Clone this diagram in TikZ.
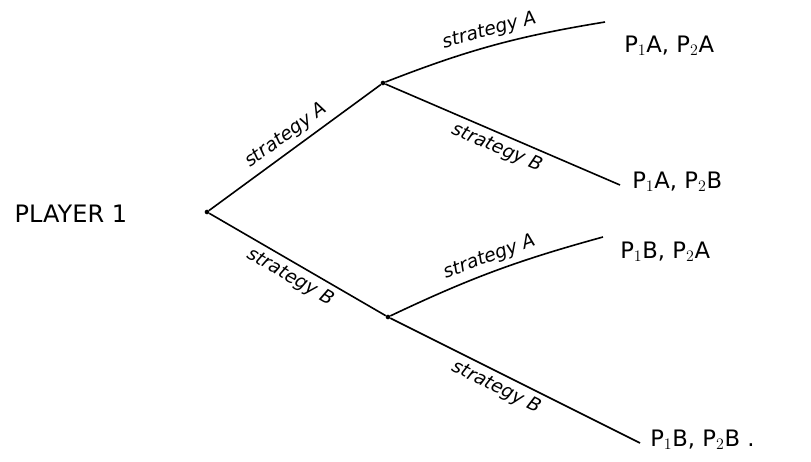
\documentclass[tikz,border=0pt]{standalone}
\usepackage{fontspec}
\setmainfont{DejaVu Sans}
\begin{document}
\begin{tikzpicture}[x=0.75pt,y=-0.75pt,
  branch/.style={line width=1.2pt, black},
  lbl/.style={font=\fontsize{14}{14}\selectfont\itshape, sloped, inner sep=4pt},
  leaf/.style={font=\fontsize{17}{17}\selectfont, anchor=west, inner sep=0pt},
  pt/.style={circle, fill=black, inner sep=0pt, minimum size=3.5pt}]
\useasboundingbox (0,0) rectangle (811,461);
\node[font=\fontsize{18}{18}\selectfont, anchor=west] (p1) at (10,214) {PLAYER 1};
\node[pt] (r) at (207,212) {};
\node[pt] (u) at (383,83) {};
\node[pt] (l) at (388,317) {};
\coordinate (ea) at (605,22);
\coordinate (eb) at (620,185);
\coordinate (ec) at (603,237);
\coordinate (ed) at (640,443);
\node[leaf] (la) at (624,46) {P$_1$A, P$_2$A};
\node[leaf] (lb) at (632,182) {P$_1$A, P$_2$B};
\node[leaf] (lc) at (620,252) {P$_1$B, P$_2$A};
\node[leaf] (ld) at (650,440) {P$_1$B, P$_2$B .};
\draw[branch] (r) -- node[lbl, above] {strategy A} (u);
\draw[branch] (r) -- node[lbl, below] {strategy B} (l);
\draw[branch] (u) to[bend left=6] node[lbl, above] {strategy A} (ea);
\draw[branch] (u) -- node[lbl, below] {strategy B} (eb);
\draw[branch] (l) to[bend left=5] node[lbl, above] {strategy A} (ec);
\draw[branch] (l) -- node[lbl, below, pos=0.45] {strategy B} (ed);
\end{tikzpicture}
\end{document}
